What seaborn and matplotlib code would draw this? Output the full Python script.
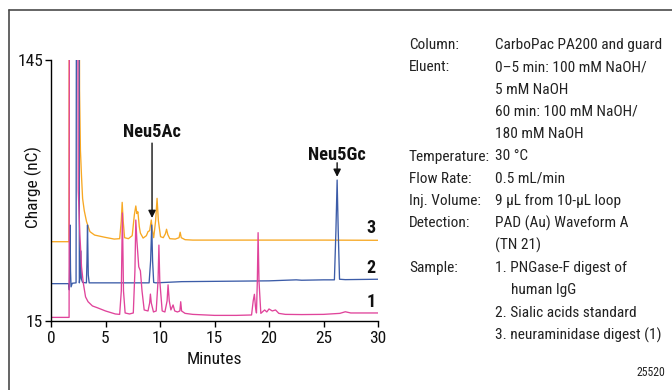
import matplotlib
matplotlib.use("Agg")
import matplotlib.pyplot as plt
from matplotlib import font_manager as fm
from matplotlib.lines import Line2D
import seaborn as sns
import pandas as pd

# ---------------- data ----------------
# trace 1: PNGase-F digest of human IgG (pink)
t1 = [0, 1.66, 1.72, 2.36, 2.5, 2.65, 2.8, 2.96, 3.17, 3.4, 3.8, 4.3, 5.0, 5.9,
      6.3, 6.45, 6.55, 6.65, 6.8, 7.2, 7.55, 7.7, 7.78, 7.88, 8.05, 8.2, 8.35,
      8.55, 8.9, 9.05, 9.12, 9.2, 9.4, 9.65, 9.82, 9.9, 9.98, 10.2, 10.45,
      10.65, 10.74, 10.85, 11.0, 11.2, 11.35, 11.6, 11.82, 11.9, 11.98, 12.3,
      13, 15, 17, 18.4, 18.55, 18.66, 18.76, 18.85, 18.93, 19.0, 19.08, 19.25,
      19.6, 19.8, 20.0, 20.3, 20.6, 20.9, 21.5, 23, 25, 26.5, 27.0, 27.5, 28.5, 30]
c1 = [16.8, 16.8, 400, 400, 80, 58, 42, 34, 27, 24.6, 22.5, 21.5, 20, 18.5,
      18.3, 30, 68.8, 30, 19, 18.5, 19, 40, 65.3, 55, 42, 40, 30,
      20.5, 20, 24, 28.4, 24, 19.5, 20, 35, 52.8, 35, 20, 19.5,
      25, 33, 25, 20.5, 23, 20, 19.5, 20, 24.6, 20, 18.8,
      18.3, 17.8, 17.8, 18, 25, 28.3, 22, 19, 35, 59, 35, 18.8,
      20.5, 19.5, 21, 20, 20.5, 18.8, 18.3, 18.2, 18.3, 18.8, 19.6, 19, 19, 19]

# trace 2: sialic acids standard (blue)
t2 = [0, 1.62, 1.68, 1.72, 1.75, 1.79, 1.84, 1.95, 2.3, 2.38, 2.55, 2.6, 2.68,
      2.72, 2.78, 2.9, 3.25, 3.3, 3.35, 3.42, 3.5, 5, 7, 9.0, 9.14, 9.24, 9.32,
      9.42, 9.6, 12, 16, 20, 22.5, 23, 25, 26.0, 26.14, 26.25, 26.35, 26.47, 27, 30]
c2 = [33.6, 33.6, 30.5, 45, 62.8, 40, 32, 33.8, 34, 400, 400, 34, 38,
      50, 36, 34.2, 34, 45, 62.8, 38, 34, 34, 34, 34, 45, 62.8, 45,
      34.2, 34, 34.6, 34.8, 35, 35.5, 35.3, 35.5, 35.5, 60, 85.2, 60, 35.8, 35.6, 35.8]

# trace 3: neuraminidase digest (orange)
t3 = [0, 1.65, 1.72, 2.55, 2.62, 2.7, 2.8, 2.9, 3.05, 3.26, 3.57, 4.0, 4.94,
      5.8, 6.3, 6.45, 6.53, 6.62, 6.75, 7.1, 7.45, 7.65, 7.78, 7.88, 7.97, 8.1,
      8.2, 8.45, 8.75, 8.9, 9.05, 9.2, 9.3, 9.42, 9.6, 9.73, 9.85, 10.05, 10.3,
      10.5, 10.6, 10.72, 10.9, 11.4, 11.75, 11.85, 11.95, 12.3, 13, 20, 25, 30]
c3 = [54.5, 54.5, 400, 400, 130, 100, 87, 76, 70, 64.5, 59.5, 57.8, 56.7,
      55.8, 56, 65, 74.1, 65, 56.5, 56, 57.5, 68, 72.3, 68.5, 69.4, 62,
      58.8, 56.3, 57.5, 59.5, 60, 65.3, 60, 56.5, 65, 76.1, 65, 57, 56.5,
      58.5, 60.7, 58, 56, 55.8, 56.5, 59.2, 56.5, 55.5, 55.3, 55.3, 55.3, 55.2]

trace_names = ["3", "2", "1"]
trace_colors = ["#F7A823", "#3C5CA8", "#E0449B"]
x_ticks = [0, 5, 10, 15, 20, 25, 30]
y_ticks = [15, 145]
label_pos_y = [61.2, 41.3, 24.6]

peak_names = ["Neu5Ac", "Neu5Gc"]
peak_times = [9.27, 26.25]
arrow_tails = [103.6, 93.8]
arrow_tips = [66.3, 86.8]
peak_text_y = [108.9, 97.5]

cond_labels = ["Column:", "Eluent:", "", "", "", "Temperature:", "Flow Rate:",
               "Inj. Volume:", "Detection:", "", "Sample:", "", "", ""]
cond_values = ["CarboPac PA200 and guard", "0\u20135 min: 100 mM NaOH/",
               "5 mM NaOH", "60 min: 100 mM NaOH/", "180 mM NaOH", "30 \u00b0C",
               "0.5 mL/min", "9 \u00b5L from 10-\u00b5L loop",
               "PAD (Au) Waveform A", "(TN 21)", "1. PNGase-F digest of",
               "human IgG", "2. Sialic acids standard",
               "3. neuraminidase digest (1)"]
cond_indent = [False] * 11 + [True, False, False]
figure_id = "25520"

# ---------------- style ----------------
sns.set_theme(style="white")


def pick_font():
    for name in ["Liberation Sans Narrow", "Roboto Condensed", "DejaVu Sans"]:
        try:
            fm.findfont(fm.FontProperties(family=name), fallback_to_default=False)
            return name
        except Exception:
            pass
    return "DejaVu Sans"


FONT = pick_font()
plt.rcParams["font.family"] = [FONT, "DejaVu Sans"]

df = pd.concat([
    pd.DataFrame({"Minutes": t3, "Charge": c3, "trace": "3"}),
    pd.DataFrame({"Minutes": t2, "Charge": c2, "trace": "2"}),
    pd.DataFrame({"Minutes": t1, "Charge": c1, "trace": "1"}),
], ignore_index=True)

W, H = 672, 390
fig = plt.figure(figsize=(W / 100, H / 100), dpi=100)
ax = fig.add_axes([51 / W, 1 - 321 / H, 327 / W, 261 / H])

sns.lineplot(data=df, x="Minutes", y="Charge", hue="trace",
             hue_order=trace_names, palette=trace_colors, estimator=None,
             sort=False, legend=False, linewidth=0.95, ax=ax)

ax.set_xlim(0, 30)
ax.set_ylim(15, 145)
ax.set_xticks(x_ticks)
ax.set_yticks(y_ticks)
for s in ["top", "right"]:
    ax.spines[s].set_visible(False)
for s in ["left", "bottom"]:
    ax.spines[s].set_color("black")
    ax.spines[s].set_linewidth(1.0)
ax.tick_params(axis="both", which="major", direction="out", length=4.2,
               width=1.0, color="black", labelsize=12.5, labelcolor="#111111",
               left=True, bottom=True)
ax.tick_params(axis="x", pad=3)
ax.tick_params(axis="y", pad=1.5)

ax.set_xlabel("Minutes", fontsize=12.5, color="#111111")
ax.set_ylabel("Charge (nC)", fontsize=12.5, color="#111111")
ax.xaxis.label.set_va("center")
ax.yaxis.label.set_va("center")
ax.xaxis.set_label_coords(0.5, -(360 - 321) / 261)
ax.yaxis.set_label_coords(-(51 - 33) / 327, (321 - 187) / 261)

# trace numbers
for name, yv in zip(trace_names, label_pos_y):
    ax.text(29.35, yv, name, ha="center", va="center", fontsize=13,
            fontweight="bold", color="#111111")

# peak annotations
for name, tx, tail, tip, ty in zip(peak_names, peak_times, arrow_tails,
                                   arrow_tips, peak_text_y):
    ax.annotate("", xy=(tx, tip), xytext=(tx, tail),
                arrowprops=dict(arrowstyle="-|>", color="#111111", lw=1.0,
                                mutation_scale=11, shrinkA=0, shrinkB=0),
                annotation_clip=False)
    ax.text(tx, ty, name, ha="center", va="center", fontsize=13.2,
            fontweight="bold", color="#111111")

# conditions block
x_lab, x_val, x_ind = 409 / W, 495 / W, 511 / W
for i, (lab, val, ind) in enumerate(zip(cond_labels, cond_values, cond_indent)):
    yy = 1 - (45 + 22.3 * i) / H
    if lab:
        fig.text(x_lab, yy, lab, ha="left", va="center", fontsize=11.1,
                 color="#222222")
    fig.text(x_ind if ind else x_val, yy, val, ha="left", va="center",
             fontsize=11.1, color="#222222")

fig.text(665 / W, 1 - 373 / H, figure_id, ha="right", va="center",
         fontsize=8.5, color="#222222")

# outer frame (top and left edges)
fig.add_artist(Line2D([8.5 / W, 1.0], [1 - 10 / H, 1 - 10 / H],
                      transform=fig.transFigure, color="#4a4a4a", lw=1.2))
fig.add_artist(Line2D([8.5 / W, 8.5 / W], [0, 1 - 10 / H],
                      transform=fig.transFigure, color="#4a4a4a", lw=1.2))

fig.savefig("out.png", dpi=100)
